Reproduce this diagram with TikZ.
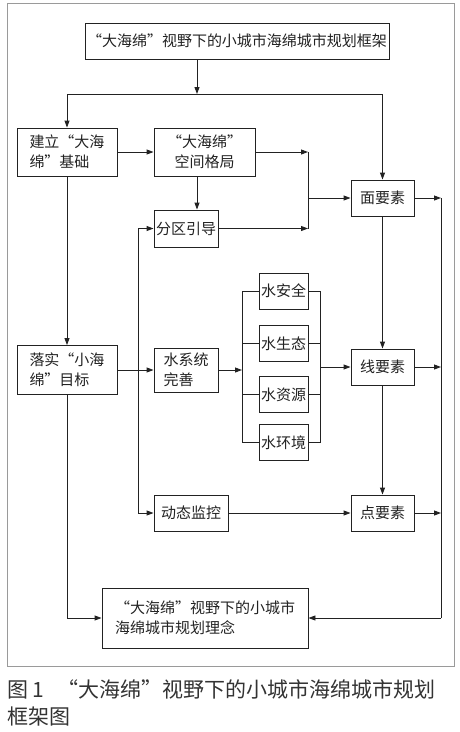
\documentclass[tikz,border=0pt]{standalone}
\usepackage{fontspec}
\setmainfont{Noto Sans CJK SC}
\usepackage{tikz}
\usetikzlibrary{arrows.meta,positioning}
\definecolor{lncol}{HTML}{222222}
\definecolor{frcol}{HTML}{9A9A9A}
\definecolor{capcol}{HTML}{333333}

\begin{document}
\begin{tikzpicture}[x=1pt, y=-1pt,
  box/.style={draw=lncol, line width=0.9pt, inner sep=2pt, align=center,
              font=\fontsize{15}{20}\selectfont, text=lncol},
  lbox/.style={box, align=left},
  line/.style={lncol, line width=0.9pt},
  arr/.style={line, -{Triangle[length=7pt, width=5pt]}}
]
  \useasboundingbox (0,0) rectangle (459,732);
  \draw[frcol, line width=1pt] (7,3) rectangle (454,666);

  \node[box, minimum width=304pt, minimum height=36pt] (top) at (237,41)
    {“大海绵”视野下的小城市海绵城市规划框架};
  \node[lbox, minimum width=100pt, minimum height=48pt] (jianli) at (67,152)
    {建立“大海\\绵”基础};
  \node[box, minimum width=101pt, minimum height=48pt] (geju) at (204.5,152)
    {“大海绵”\\空间格局};
  \node[box, minimum width=64pt, minimum height=37pt] (fenqu) at (186,228.5) {分区引导};
  \node[box, minimum width=63pt, minimum height=36pt] (mian) at (382.5,198) {面要素};
  \node[lbox, minimum width=100pt, minimum height=49pt] (luoshi) at (67,370)
    {落实“小海\\绵”目标};
  \node[lbox, minimum width=64pt, minimum height=44pt] (shuixi) at (186,370)
    {水系统\\完善};
  \node[box, minimum width=49pt, minimum height=36pt] (wa) at (283.5,291) {水安全};
  \node[box, minimum width=49pt, minimum height=36pt] (wb) at (283.5,343.5) {水生态};
  \node[box, minimum width=49pt, minimum height=36pt] (wc) at (283.5,394.5) {水资源};
  \node[box, minimum width=49pt, minimum height=36pt] (wd) at (283.5,442.5) {水环境};
  \node[box, minimum width=63pt, minimum height=36pt] (xian) at (382.5,367) {线要素};
  \node[box, minimum width=74pt, minimum height=36pt] (dongtai) at (191,513) {动态监控};
  \node[box, minimum width=63pt, minimum height=36pt] (dian) at (382.5,513) {点要素};
  \node[lbox, minimum width=206pt, minimum height=60pt] (linian) at (205,618)
    {“大海绵”视野下的小城市\\海绵城市规划理念};

  \node[anchor=north west, align=left, inner sep=0pt, text=capcol,
        font=\fontsize{21}{27}\selectfont] (cap) at (7,679)
    {图 1\hspace{0.6em}“大海绵”视野下的小城市海绵城市规划\\框架图};

  \coordinate (split) at (197,94);
  \coordinate (jn) at (308,198);
  \coordinate (lbus) at (138,370);
  \coordinate (wl) at (242,370);
  \coordinate (wr) at (320,367);
  \coordinate (rb) at (441,618);

  \draw[arr] (top.south -| split) -- (split);
  \draw[line] (jianli.north |- split) -- (mian.north |- split);
  \draw[arr] (jianli.north |- split) -- (jianli.north);
  \draw[arr] (mian.north |- split) -- (mian.north);

  \draw[arr] (jianli) -- (geju);
  \draw[arr] (geju.south -| split) -- (fenqu.north -| split);
  \draw[arr] (geju.east) -- (geju.east -| jn);
  \draw[arr] (fenqu.east) -- (fenqu.east -| jn);
  \draw[line] (geju.east -| jn) -- (fenqu.east -| jn);
  \draw[arr] (jn) -- (mian.west);

  \draw[arr] (jianli) -- (luoshi);
  \draw[line] (luoshi.east) -- (lbus);
  \draw[line] (fenqu.west -| lbus) -- (dongtai.west -| lbus);
  \draw[arr] (lbus) -- (shuixi.west);
  \draw[arr] (fenqu.west -| lbus) -- (fenqu.west);
  \draw[arr] (dongtai.west -| lbus) -- (dongtai.west);

  \draw[arr] (shuixi.east) -- (wl);
  \draw[line] (wa.west -| wl) -- (wd.west -| wl);
  \draw[line] (wa.east -| wr) -- (wd.east -| wr);
  \foreach \w in {wa,wb,wc,wd} {
    \draw[line] (\w.west -| wl) -- (\w.west);
    \draw[line] (\w.east) -- (\w.east -| wr);
  }
  \draw[arr] (xian.west -| wr) -- (xian.west);

  \draw[arr] (mian) -- (xian);
  \draw[arr] (xian) -- (dian);
  \draw[arr] (dongtai) -- (dian);

  \foreach \n in {mian,xian,dian}
    \draw[arr] (\n.east) -- (\n.east -| rb);
  \draw[line] (mian.east -| rb) -- (rb);
  \draw[arr] (rb) -- (linian.east);
  \draw[arr] (luoshi.south) |- (linian.west);
\end{tikzpicture}
\end{document}
